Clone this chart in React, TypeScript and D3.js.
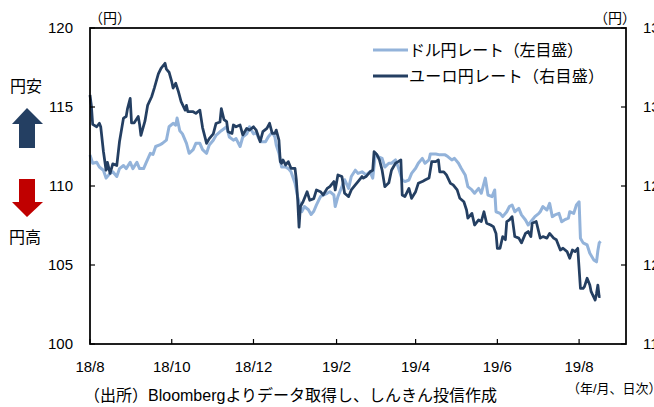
import React, { useRef, useEffect } from "react";
import * as d3 from "d3";

// USD/JPY daily, left axis (yen)
const usdJpy: [string, number][] = [
  ["2018-08-01", 111.96], ["2018-08-03", 111.44], ["2018-08-06", 111.5], ["2018-08-08", 111.2],
  ["2018-08-11", 111.0], ["2018-08-13", 110.5], ["2018-08-16", 110.8], ["2018-08-18", 110.9],
  ["2018-08-21", 110.6], ["2018-08-23", 111.1], ["2018-08-26", 111.3], ["2018-08-28", 111.1],
  ["2018-08-31", 111.5], ["2018-09-02", 111.1], ["2018-09-05", 111.5], ["2018-09-07", 111.1],
  ["2018-09-10", 111.1], ["2018-09-12", 111.5], ["2018-09-15", 112.07], ["2018-09-17", 112.0],
  ["2018-09-19", 112.5], ["2018-09-22", 112.6], ["2018-09-24", 112.7], ["2018-09-27", 112.9],
  ["2018-09-29", 113.75], ["2018-10-02", 113.97], ["2018-10-04", 113.85], ["2018-10-05", 114.3],
  ["2018-10-07", 113.5], ["2018-10-09", 113.3], ["2018-10-12", 112.7], ["2018-10-14", 112.07],
  ["2018-10-17", 112.3], ["2018-10-19", 112.7], ["2018-10-22", 112.7], ["2018-10-24", 112.3],
  ["2018-10-27", 112.07], ["2018-10-29", 112.6], ["2018-11-01", 112.9], ["2018-11-03", 113.2],
  ["2018-11-07", 113.5], ["2018-11-11", 113.75], ["2018-11-13", 113.1], ["2018-11-16", 112.9],
  ["2018-11-18", 113.0], ["2018-11-21", 112.5], ["2018-11-23", 113.1], ["2018-11-26", 113.3],
  ["2018-11-28", 113.75], ["2018-12-01", 113.3], ["2018-12-03", 113.4], ["2018-12-05", 113.0],
  ["2018-12-07", 112.8], ["2018-12-10", 112.8], ["2018-12-12", 113.1], ["2018-12-15", 113.4],
  ["2018-12-17", 113.1], ["2018-12-18", 112.6], ["2018-12-20", 112.07], ["2018-12-22", 111.2],
  ["2018-12-25", 111.2], ["2018-12-27", 111.1], ["2018-12-29", 110.9], ["2019-01-01", 110.17],
  ["2019-01-03", 109.3], ["2019-01-05", 108.7], ["2019-01-06", 108.37], ["2019-01-08", 108.7],
  ["2019-01-11", 108.5], ["2019-01-13", 108.2], ["2019-01-15", 108.4], ["2019-01-17", 108.8],
  ["2019-01-20", 109.33], ["2019-01-22", 109.43], ["2019-01-25", 109.54], ["2019-01-27", 109.64],
  ["2019-01-30", 109.43], ["2019-01-31", 108.7], ["2019-02-02", 109.33], ["2019-02-05", 109.96],
  ["2019-02-07", 110.4], ["2019-02-10", 109.85], ["2019-02-12", 110.6], ["2019-02-15", 111.0],
  ["2019-02-17", 110.8], ["2019-02-20", 110.9], ["2019-02-23", 110.7], ["2019-02-26", 110.9],
  ["2019-02-28", 110.5], ["2019-03-02", 112.07], ["2019-03-04", 111.86], ["2019-03-07", 111.75],
  ["2019-03-09", 111.2], ["2019-03-12", 111.44], ["2019-03-14", 111.44], ["2019-03-17", 111.65],
  ["2019-03-19", 111.2], ["2019-03-22", 110.38], ["2019-03-24", 110.28], ["2019-03-27", 110.38],
  ["2019-03-29", 110.8], ["2019-04-01", 111.12], ["2019-04-03", 111.44], ["2019-04-06", 111.75],
  ["2019-04-08", 111.44], ["2019-04-11", 111.65], ["2019-04-12", 112.03], ["2019-04-16", 112.03],
  ["2019-04-19", 111.97], ["2019-04-23", 111.97], ["2019-04-25", 111.86], ["2019-04-28", 111.65],
  ["2019-04-30", 111.75], ["2019-05-03", 111.44], ["2019-05-05", 111.12], ["2019-05-08", 110.7],
  ["2019-05-10", 109.96], ["2019-05-13", 109.75], ["2019-05-15", 109.54], ["2019-05-18", 109.85],
  ["2019-05-20", 109.54], ["2019-05-23", 110.5], ["2019-05-25", 109.43], ["2019-05-28", 109.33],
  ["2019-05-30", 109.75], ["2019-05-31", 108.37], ["2019-06-03", 108.27], ["2019-06-05", 108.06],
  ["2019-06-08", 108.37], ["2019-06-10", 108.7], ["2019-06-12", 108.8], ["2019-06-14", 108.37],
  ["2019-06-17", 108.58], ["2019-06-19", 108.17], ["2019-06-22", 107.85], ["2019-06-24", 107.53],
  ["2019-06-27", 107.85], ["2019-06-29", 108.06], ["2019-07-02", 108.27], ["2019-07-03", 108.37],
  ["2019-07-05", 108.7], ["2019-07-08", 108.48], ["2019-07-10", 108.9], ["2019-07-12", 108.06],
  ["2019-07-14", 108.17], ["2019-07-17", 108.27], ["2019-07-19", 107.74], ["2019-07-21", 107.85],
  ["2019-07-24", 107.96], ["2019-07-25", 108.37], ["2019-07-28", 108.27], ["2019-07-30", 108.8],
  ["2019-08-01", 109.0], ["2019-08-02", 106.7], ["2019-08-04", 106.4], ["2019-08-07", 106.27],
  ["2019-08-09", 105.74], ["2019-08-12", 105.32], ["2019-08-14", 105.2], ["2019-08-15", 105.9],
  ["2019-08-16", 106.4], ["2019-08-17", 106.5],
];

// EUR/JPY daily, right axis (yen)
const eurJpy: [string, number][] = [
  ["2018-08-01", 130.76], ["2018-08-02", 130.1], ["2018-08-03", 128.9], ["2018-08-06", 128.75],
  ["2018-08-08", 128.97], ["2018-08-09", 128.75], ["2018-08-11", 127.2], ["2018-08-13", 126.0],
  ["2018-08-14", 126.5], ["2018-08-16", 125.8], ["2018-08-18", 126.4], ["2018-08-21", 126.3],
  ["2018-08-23", 127.8], ["2018-08-26", 129.3], ["2018-08-28", 129.4], ["2018-08-29", 129.9],
  ["2018-08-31", 130.55], ["2018-09-01", 129.0], ["2018-09-03", 129.0], ["2018-09-06", 129.4],
  ["2018-09-07", 128.9], ["2018-09-08", 128.2], ["2018-09-11", 129.1], ["2018-09-13", 130.1],
  ["2018-09-16", 130.65], ["2018-09-18", 131.2], ["2018-09-21", 132.1], ["2018-09-23", 132.45],
  ["2018-09-26", 132.77], ["2018-09-27", 132.4], ["2018-09-29", 132.2], ["2018-10-01", 131.6],
  ["2018-10-02", 131.2], ["2018-10-04", 131.5], ["2018-10-06", 130.97], ["2018-10-08", 130.34],
  ["2018-10-11", 129.8], ["2018-10-12", 130.1], ["2018-10-13", 129.7], ["2018-10-17", 129.7],
  ["2018-10-19", 129.6], ["2018-10-22", 129.8], ["2018-10-24", 128.7], ["2018-10-27", 127.7],
  ["2018-10-29", 128.0], ["2018-11-01", 128.3], ["2018-11-03", 128.95], ["2018-11-06", 129.05],
  ["2018-11-07", 129.9], ["2018-11-09", 129.2], ["2018-11-11", 129.07], ["2018-11-12", 128.44],
  ["2018-11-15", 128.33], ["2018-11-16", 128.86], ["2018-11-18", 128.75], ["2018-11-21", 128.86],
  ["2018-11-23", 128.23], ["2018-11-26", 128.65], ["2018-11-28", 128.54], ["2018-12-01", 128.75],
  ["2018-12-03", 128.54], ["2018-12-06", 127.8], ["2018-12-08", 128.44], ["2018-12-11", 128.65],
  ["2018-12-13", 128.97], ["2018-12-15", 128.33], ["2018-12-17", 128.33], ["2018-12-18", 128.54],
  ["2018-12-20", 127.9], ["2018-12-21", 126.54], ["2018-12-22", 126.44], ["2018-12-23", 126.65],
  ["2018-12-25", 126.33], ["2018-12-27", 126.54], ["2018-12-29", 126.12], ["2019-01-01", 126.12],
  ["2019-01-02", 125.38], ["2019-01-03", 124.1], ["2019-01-04", 122.4], ["2019-01-05", 123.7],
  ["2019-01-07", 124.0], ["2019-01-10", 124.64], ["2019-01-12", 124.1], ["2019-01-15", 124.2],
  ["2019-01-17", 124.75], ["2019-01-20", 124.64], ["2019-01-22", 124.43], ["2019-01-25", 124.85],
  ["2019-01-27", 124.96], ["2019-01-30", 125.28], ["2019-01-31", 124.75], ["2019-02-02", 125.7],
  ["2019-02-05", 125.6], ["2019-02-07", 124.54], ["2019-02-10", 124.33], ["2019-02-12", 124.75],
  ["2019-02-15", 125.07], ["2019-02-17", 125.28], ["2019-02-20", 125.6], ["2019-02-21", 125.5],
  ["2019-02-23", 125.6], ["2019-02-26", 125.9], ["2019-02-28", 126.0], ["2019-03-01", 127.17],
  ["2019-03-03", 127.0], ["2019-03-05", 126.65], ["2019-03-07", 126.0], ["2019-03-09", 124.96],
  ["2019-03-12", 125.2], ["2019-03-14", 126.0], ["2019-03-17", 126.44], ["2019-03-19", 126.54],
  ["2019-03-21", 126.65], ["2019-03-22", 124.43], ["2019-03-24", 124.33], ["2019-03-27", 124.85],
  ["2019-03-29", 124.22], ["2019-04-01", 124.64], ["2019-04-03", 125.17], ["2019-04-06", 125.28],
  ["2019-04-08", 125.38], ["2019-04-11", 125.5], ["2019-04-13", 126.54], ["2019-04-16", 126.54],
  ["2019-04-18", 126.65], ["2019-04-19", 125.9], ["2019-04-22", 125.9], ["2019-04-24", 125.7],
  ["2019-04-27", 125.17], ["2019-04-29", 125.07], ["2019-05-02", 124.75], ["2019-05-04", 124.22],
  ["2019-05-07", 124.0], ["2019-05-09", 123.48], ["2019-05-10", 122.96], ["2019-05-13", 123.27],
  ["2019-05-15", 122.53], ["2019-05-18", 122.85], ["2019-05-20", 122.75], ["2019-05-22", 123.37],
  ["2019-05-24", 122.64], ["2019-05-27", 122.53], ["2019-05-29", 122.43], ["2019-05-31", 122.0],
  ["2019-06-01", 121.06], ["2019-06-03", 121.06], ["2019-06-05", 121.8], ["2019-06-07", 121.6],
  ["2019-06-08", 122.74], ["2019-06-10", 122.85], ["2019-06-12", 123.06], ["2019-06-14", 121.8],
  ["2019-06-17", 121.7], ["2019-06-19", 121.4], ["2019-06-22", 122.0], ["2019-06-24", 122.12],
  ["2019-06-26", 121.8], ["2019-06-27", 122.64], ["2019-06-30", 122.75], ["2019-07-03", 121.7],
  ["2019-07-05", 121.8], ["2019-07-08", 121.7], ["2019-07-10", 122.0], ["2019-07-13", 121.7],
  ["2019-07-15", 121.6], ["2019-07-18", 120.95], ["2019-07-20", 121.06], ["2019-07-23", 120.85],
  ["2019-07-25", 120.43], ["2019-07-27", 120.95], ["2019-07-29", 120.85], ["2019-07-31", 121.06],
  ["2019-08-02", 118.52], ["2019-08-04", 118.52], ["2019-08-05", 118.63], ["2019-08-07", 119.16],
  ["2019-08-09", 118.74], ["2019-08-10", 118.31], ["2019-08-13", 117.78], ["2019-08-14", 118.2],
  ["2019-08-15", 118.73], ["2019-08-16", 118.0], ["2019-08-17", 118.0],
];

const xTickDates = ["2018-08-01", "2018-10-01", "2018-12-01", "2019-02-01", "2019-04-01", "2019-06-01", "2019-08-01"];
const xTickLabels = ["18/8", "18/10", "18/12", "19/2", "19/4", "19/6", "19/8"];
const leftTicks = [100, 105, 110, 115, 120];
const rightTicks = [115, 120, 125, 130, 135];
const legendLabels = ["ドル円レート（左目盛）", "ユーロ円レート（右目盛）"];
const colors = ["#93b3da", "#243f62"];

const W = 654;
const H = 407;
const plot = { left: 90, right: 626, top: 28, bottom: 344 };
const font = "'Liberation Sans', Arial, 'Noto Sans CJK JP', sans-serif";

const App = () => {
  const ref: any = useRef();

  useEffect(() => {
    const svg = d3.select(ref.current);
    svg.selectAll("*").remove();
    const parse = d3.timeParse("%Y-%m-%d");

    const x = d3
      .scaleTime()
      .domain([parse("2018-08-01") as Date, parse("2019-09-05") as Date])
      .range([plot.left, plot.right]);
    const yLeft = d3.scaleLinear().domain([100, 120]).range([plot.bottom, plot.top]);
    const yRight = d3.scaleLinear().domain([115, 135]).range([plot.bottom, plot.top]);

    svg.append("rect").attr("width", W).attr("height", H).attr("fill", "#fff");

    // lines
    const usdLine = d3
      .line<[string, number]>()
      .x((d) => x(parse(d[0]) as Date))
      .y((d) => yLeft(d[1]));
    const eurLine = d3
      .line<[string, number]>()
      .x((d) => x(parse(d[0]) as Date))
      .y((d) => yRight(d[1]));

    svg
      .append("path")
      .datum(usdJpy)
      .attr("d", usdLine)
      .attr("fill", "none")
      .attr("stroke", colors[0])
      .attr("stroke-width", 3)
      .attr("stroke-linejoin", "round");
    svg
      .append("path")
      .datum(eurJpy)
      .attr("d", eurLine)
      .attr("fill", "none")
      .attr("stroke", colors[1])
      .attr("stroke-width", 2.75)
      .attr("stroke-linejoin", "round");

    // frame
    svg
      .append("rect")
      .attr("x", plot.left)
      .attr("y", plot.top)
      .attr("width", plot.right - plot.left)
      .attr("height", plot.bottom - plot.top)
      .attr("fill", "none")
      .attr("stroke", "#000")
      .attr("stroke-width", 1.75);

    // left axis
    const left = svg.append("g");
    left
      .selectAll("line")
      .data(leftTicks)
      .enter()
      .append("line")
      .attr("x1", plot.left)
      .attr("x2", plot.left + 5)
      .attr("y1", (d) => yLeft(d))
      .attr("y2", (d) => yLeft(d))
      .attr("stroke", "#000")
      .attr("stroke-width", 1.2);
    left
      .selectAll("text")
      .data(leftTicks)
      .enter()
      .append("text")
      .attr("x", 73)
      .attr("y", (d) => yLeft(d))
      .attr("dy", "0.36em")
      .attr("text-anchor", "end")
      .attr("font-size", 15)
      .text((d) => d);

    // right axis (labels run off the right edge, as in the source image)
    const right = svg.append("g");
    right
      .selectAll("line")
      .data(rightTicks)
      .enter()
      .append("line")
      .attr("x1", plot.right - 5)
      .attr("x2", plot.right)
      .attr("y1", (d) => yRight(d))
      .attr("y2", (d) => yRight(d))
      .attr("stroke", "#000")
      .attr("stroke-width", 1.2);
    right
      .selectAll("text")
      .data(rightTicks)
      .enter()
      .append("text")
      .attr("x", 643)
      .attr("y", (d) => yRight(d))
      .attr("dy", "0.36em")
      .attr("font-size", 15)
      .text((d) => d);

    // x axis
    const bottom = svg.append("g");
    bottom
      .selectAll("line")
      .data(xTickDates)
      .enter()
      .append("line")
      .attr("x1", (d) => x(parse(d) as Date))
      .attr("x2", (d) => x(parse(d) as Date))
      .attr("y1", plot.bottom - 5)
      .attr("y2", plot.bottom)
      .attr("stroke", "#000")
      .attr("stroke-width", 1.2);
    bottom
      .selectAll("text")
      .data(xTickDates)
      .enter()
      .append("text")
      .attr("x", (d) => x(parse(d) as Date))
      .attr("y", 372)
      .attr("text-anchor", "middle")
      .attr("font-size", 15)
      .text((d, i) => xTickLabels[i]);

    // unit labels
    svg.append("text").attr("x", 89).attr("y", 23).attr("font-size", 14).text("（円）");
    svg.append("text").attr("x", 594).attr("y", 23).attr("font-size", 14).text("（円）");

    // legend
    const legendWidths = [174, 195];
    const legend = svg.append("g");
    legendLabels.forEach((label, i) => {
      const ly = 50 + i * 26;
      legend
        .append("line")
        .attr("x1", 373)
        .attr("x2", 408)
        .attr("y1", ly)
        .attr("y2", ly)
        .attr("stroke", colors[i])
        .attr("stroke-width", 3);
      legend
        .append("text")
        .attr("x", 409)
        .attr("y", ly + 6)
        .attr("font-size", 16)
        .attr("textLength", legendWidths[i])
        .attr("lengthAdjust", "spacing")
        .text(label);
    });

    // yen weak / strong arrows
    svg.append("text").attr("x", 10).attr("y", 92).attr("font-size", 16).text("円安");
    svg
      .append("polygon")
      .attr("points", "27,108 43,124 35,124 35,148 19,148 19,124 12,124")
      .attr("fill", "#243f62");
    svg
      .append("polygon")
      .attr("points", "19,179 35,179 35,202 43,202 27,217 12,202 19,202")
      .attr("fill", "#c00000");
    svg.append("text").attr("x", 9).attr("y", 243).attr("font-size", 16).text("円高");

    // notes
    svg
      .append("text")
      .attr("x", 84)
      .attr("y", 401)
      .attr("font-size", 16)
      .text("（出所）Bloombergよりデータ取得し、しんきん投信作成");
    svg
      .append("text")
      .attr("x", 567)
      .attr("y", 393)
      .attr("font-size", 13)
      .text("（年/月、日次）");
  }, []);

  return (
    <svg
      ref={ref}
      width={W}
      height={H}
      style={{ position: "absolute", left: 0, top: 0, display: "block", fontFamily: font }}
    />
  );
};

export default App;
